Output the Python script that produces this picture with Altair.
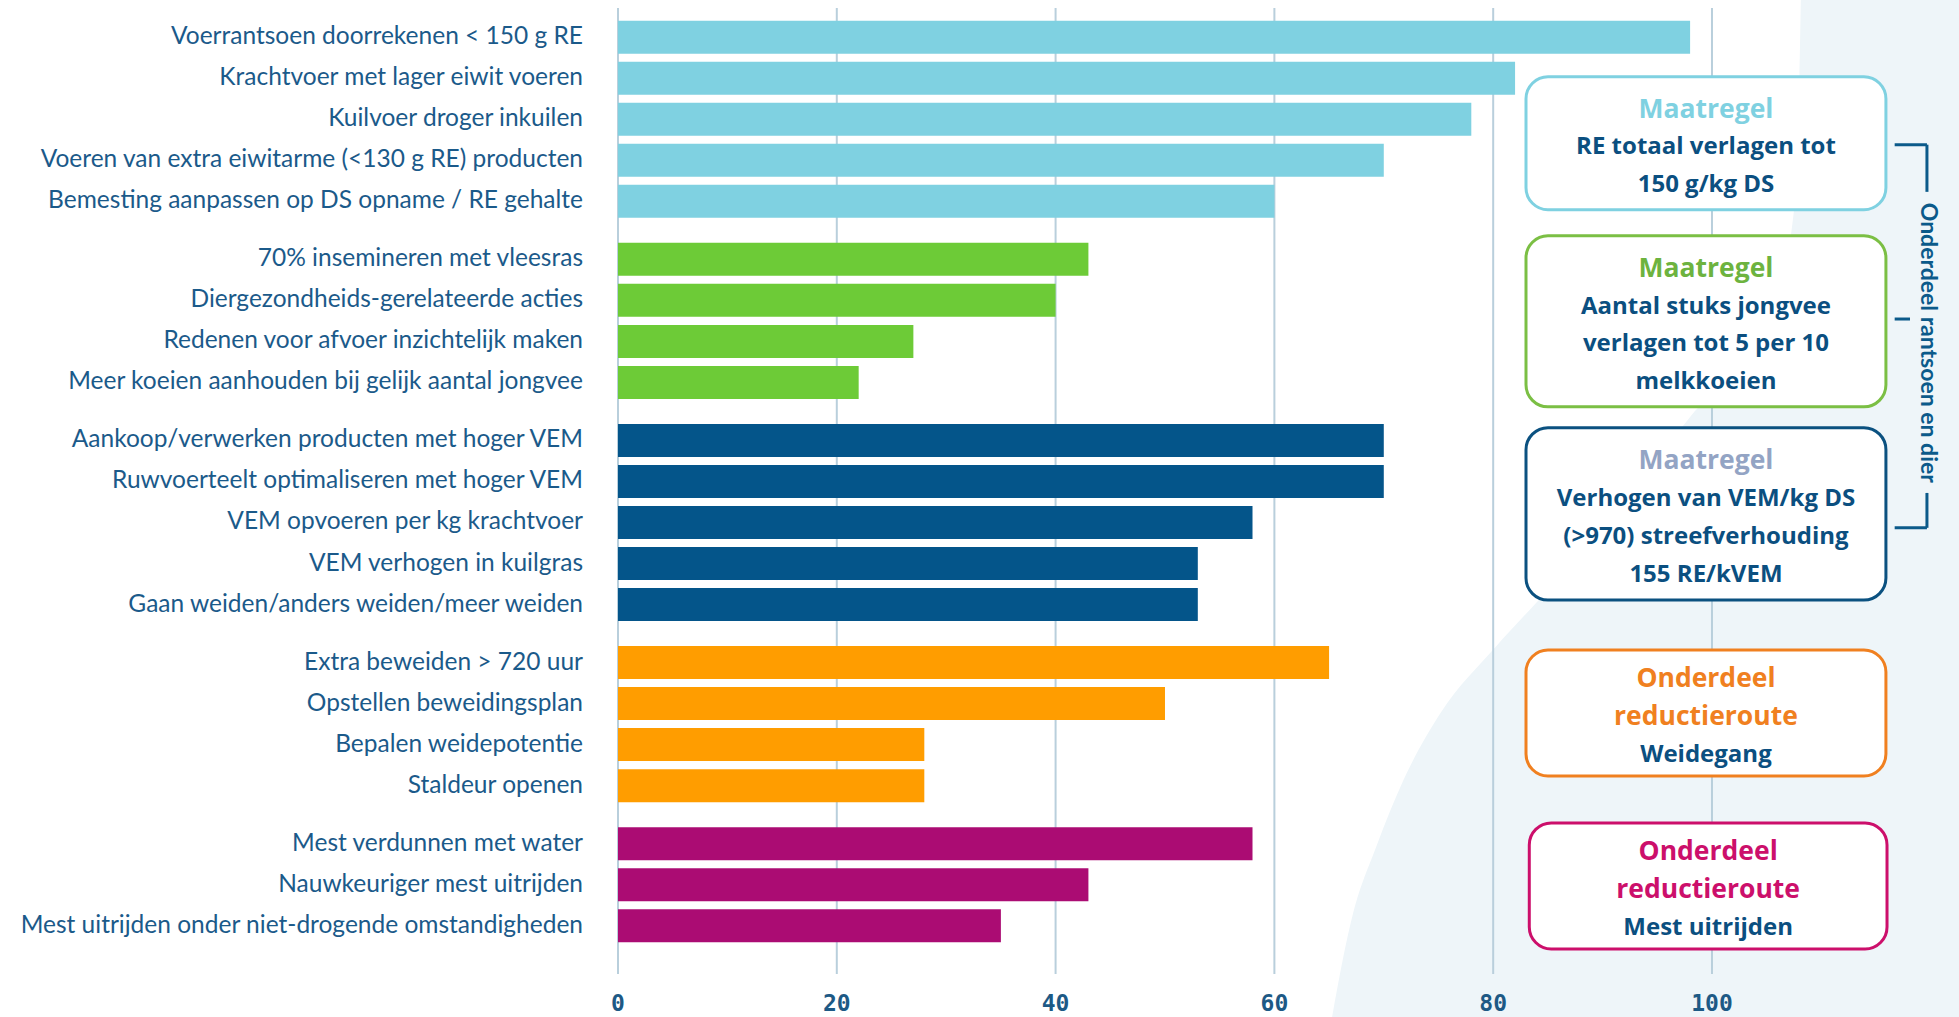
import altair as alt
import pandas as pd

# ---------------- data ----------------
labels = [
    "Voerrantsoen doorrekenen < 150 g RE",
    "Krachtvoer met lager eiwit voeren",
    "Kuilvoer droger inkuilen",
    "Voeren van extra eiwitarme (<130 g RE) producten",
    "Bemesting aanpassen op DS opname / RE gehalte",
    "70% insemineren met vleesras",
    "Diergezondheids-gerelateerde acties",
    "Redenen voor afvoer inzichtelijk maken",
    "Meer koeien aanhouden bij gelijk aantal jongvee",
    "Aankoop/verwerken producten met hoger VEM",
    "Ruwvoerteelt optimaliseren met hoger VEM",
    "VEM opvoeren per kg krachtvoer",
    "VEM verhogen in kuilgras",
    "Gaan weiden/anders weiden/meer weiden",
    "Extra beweiden > 720 uur",
    "Opstellen beweidingsplan",
    "Bepalen weidepotentie",
    "Staldeur openen",
    "Mest verdunnen met water",
    "Nauwkeuriger mest uitrijden",
    "Mest uitrijden onder niet-drogende omstandigheden",
]
values = [98, 82, 78, 70, 60,
          43, 40, 27, 22,
          70, 70, 58, 53, 53,
          65, 50, 28, 28,
          58, 43, 35]
groups = [0] * 5 + [1] * 4 + [2] * 5 + [3] * 4 + [4] * 3
group_colors = ["#7fd1e1", "#6dcb37", "#04558a", "#ff9d00", "#ab0c73"]

tick_values = [0, 20, 40, 60, 80, 100]

box_heads = [["Maatregel"], ["Maatregel"], ["Maatregel"],
             ["Onderdeel", "reductieroute"], ["Onderdeel", "reductieroute"]]
box_bodies = [["RE totaal verlagen tot", "150 g/kg DS"],
              ["Aantal stuks jongvee", "verlagen tot 5 per 10", "melkkoeien"],
              ["Verhogen van VEM/kg DS", "(>970) streefverhouding", "155 RE/kVEM"],
              ["Weidegang"],
              ["Mest uitrijden"]]
box_strokes = ["#7fd1e1", "#7bbf44", "#0b5180", "#f08020", "#cc0f6b"]
box_head_colors = ["#7fd1e1", "#6db33f", "#93a4c4", "#f08020", "#cc0f6b"]
body_color = "#0b4f80"
side_label = "Onderdeel rantsoen en dier"

# ---------------- layout (annotation geometry, in data units) ----------------
GAP = 0.415           # extra space between groups (in bar steps)
Y_DOMAIN = [-0.59, 22.715]
X_DOMAIN = [0, 122.58]
W, H = 1341, 966
box_centers = [2.585, 6.926, 11.62, 16.475, 20.69]
box_heights = [3.24, 4.17, 4.2, 3.07, 3.07]
box_x = [(83.0, 115.9)] * 4 + [(83.3, 116.0)]
LINE = 0.92

bars = pd.DataFrame({"label": labels, "value": values, "grp": groups})
bars["slot"] = [i + GAP * g for i, g in enumerate(groups)]

xs = alt.Scale(domain=X_DOMAIN, nice=False, zero=True)
ys = alt.Scale(domain=Y_DOMAIN, nice=False, zero=False, reverse=True)

# background decorative shape (region right of a curved edge)
bg = pd.DataFrame({
    "bx": [64.8, 67.2, 69.3, 71.8, 75.2, 80.2, 84.4, 90.7, 98.0, 105.3, 107.6, 108.0, 108.2, 140.0],
    "by": [24.6, 21.35, 19.74, 18.11, 16.47, 14.87, 13.65, 11.77, 9.26, 6.89, 3.96, 0.914, -1.5, -1.5],
})
bg["by2"] = 24.6
bg_layer = alt.Chart(bg).mark_area(color="#eef5f9", opacity=1, interpolate="monotone").encode(
    x=alt.X("bx:Q", scale=xs, axis=None),
    y=alt.Y("by:Q", scale=ys, axis=None),
    y2="by2:Q",
)

ticks_df = pd.DataFrame({"v": tick_values})
grid = alt.Chart(ticks_df).mark_rule(color="#b9cfdc", strokeWidth=2).encode(
    x=alt.X("v:Q", scale=xs, axis=None),
    y=alt.value(0),
    y2=alt.value(H),
)
tick_labels = alt.Chart(ticks_df).mark_text(
    font="DejaVu Sans Mono", fontSize=23, fontWeight="bold", color="#1d5985",
    align="center", baseline="middle"
).encode(
    x=alt.X("v:Q", scale=xs, axis=None),
    y=alt.value(H + 30),
    text=alt.Text("v:Q", format="d"),
)

bar_layer = alt.Chart(bars).mark_bar(orient="horizontal", size=33).encode(
    x=alt.X("value:Q", scale=xs, axis=None),
    y=alt.Y("slot:Q", scale=ys, axis=None),
    color=alt.Color("grp:N", scale=alt.Scale(domain=list(range(5)), range=group_colors), legend=None),
)

label_layer = alt.Chart(bars).mark_text(
    align="right", baseline="middle", font="Lato", fontSize=24.5, color="#1b5a8a"
).encode(
    x=alt.value(-35),
    y=alt.Y("slot:Q", scale=ys, axis=None),
    text="label:N",
)

# boxes
box_df = pd.DataFrame({
    "x1": [b[0] for b in box_x], "x2": [b[1] for b in box_x],
    "y1": [c - h / 2 for c, h in zip(box_centers, box_heights)],
    "y2": [c + h / 2 for c, h in zip(box_centers, box_heights)],
    "stroke": box_strokes,
})
box_layer = alt.Chart(box_df).mark_rect(
    fill="white", strokeWidth=3, cornerRadius=22
).encode(
    x=alt.X("x1:Q", scale=xs, axis=None), x2="x2:Q",
    y=alt.Y("y1:Q", scale=ys, axis=None), y2="y2:Q",
    stroke=alt.Stroke("stroke:N", scale=None),
)

rows = []
for b in range(5):
    lines = [(t, box_head_colors[b], 26.5) for t in box_heads[b]] + \
            [(t, body_color, 24) for t in box_bodies[b]]
    n = len(lines)
    for k, (t, c, fs) in enumerate(lines):
        rows.append({"tx": (box_x[b][0] + box_x[b][1]) / 2,
                     "ty": box_centers[b] + 0.1 + (k - (n - 1) / 2) * LINE,
                     "t": t, "c": c, "fs": fs})
box_text = alt.Chart(pd.DataFrame(rows)).mark_text(
    font="Open Sans", fontWeight="bold", align="center", baseline="middle"
).encode(
    x=alt.X("tx:Q", scale=xs, axis=None),
    y=alt.Y("ty:Q", scale=ys, axis=None),
    text="t:N",
    color=alt.Color("c:N", scale=None),
    size=alt.Size("fs:Q", scale=None, legend=None),
)

# bracket
br = pd.DataFrame({
    "x1": [116.7, 119.65, 119.65, 116.7, 116.7],
    "x2": [119.65, 119.65, 119.65, 119.65, 118.1],
    "y1": [2.62, 2.62, 11.11, 11.96, 6.87],
    "y2": [2.62, 3.77, 11.96, 11.96, 6.87],
})
bracket = alt.Chart(br).mark_rule(color="#0b5a8a", strokeWidth=3).encode(
    x=alt.X("x1:Q", scale=xs, axis=None), x2="x2:Q",
    y=alt.Y("y1:Q", scale=ys, axis=None), y2="y2:Q",
)
side = alt.Chart(pd.DataFrame({"sx": [119.72], "sy": [7.45], "t": [side_label]})).mark_text(
    font="Lato", fontSize=23, fontWeight="bold", angle=90, align="center", baseline="middle",
    color="#0b5a8a"
).encode(
    x=alt.X("sx:Q", scale=xs, axis=None),
    y=alt.Y("sy:Q", scale=ys, axis=None),
    text="t:N",
)

chart = alt.layer(bg_layer, grid, tick_labels, bar_layer, label_layer, box_layer, box_text,
                  bracket, side).properties(
    width=W, height=H,
    autosize=alt.AutoSizeParams(type="none"),
    padding={"left": 618, "top": 8, "right": 0, "bottom": 43},
    background="white",
).configure_view(stroke=None)

chart.save("out.html", embed_options={"renderer": "svg", "actions": False})
